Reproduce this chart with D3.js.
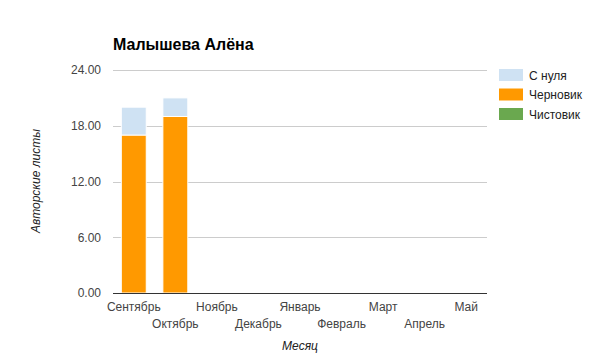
<!DOCTYPE html>
<html><head><meta charset="utf-8">
<script src="https://cdn.jsdelivr.net/npm/d3@7"></script>
<style>body{margin:0;background:#fff}svg{display:block;font-family:Arial,"Liberation Sans",sans-serif}</style>
</head><body><svg id="c" width="600" height="363"></svg>
<script>
const months = ["Сентябрь","Октябрь","Ноябрь","Декабрь","Январь","Февраль","Март","Апрель","Май"];
const chernovik = [17,19,0,0,0,0,0,0,0];
const sNulya = [3,2,0,0,0,0,0,0,0];
const chistovik = [0,0,0,0,0,0,0,0,0];
const yTicks = [0,6,12,18,24];
const seriesNames = ["С нуля","Черновик","Чистовик"];
const colors = {"С нуля":"#cfe2f3","Черновик":"#ff9900","Чистовик":"#6aa84f"};

const svg = d3.select("#c");
const m = {l:113, r:487, t:70, b:293};
const x = d3.scaleBand().domain(months).range([m.l,m.r]).paddingInner(0.4).paddingOuter(0.2);
const y = d3.scaleLinear().domain([0,24]).range([m.b,m.t]);
const FF = "Arial,'Liberation Sans',sans-serif";

svg.append("text").attr("x",113).attr("y",50).attr("font-size",16).attr("font-weight","bold").attr("fill","#000").text("Малышева Алёна");

// gridlines
svg.append("g").selectAll("line").data(yTicks.filter(d=>d>0)).join("line")
  .attr("x1",m.l).attr("x2",m.r).attr("y1",d=>Math.round(y(d))+0.5).attr("y2",d=>Math.round(y(d))+0.5)
  .attr("stroke","#cccccc");

const yAxis = svg.append("g").attr("transform",`translate(${m.l},0)`)
  .call(d3.axisLeft(y).tickValues(yTicks).tickFormat(d3.format(".2f")).tickSize(0).tickPadding(12));
yAxis.select(".domain").remove();
yAxis.selectAll("text").attr("font-size",12).attr("fill","#444").attr("font-family",FF);

// stacked bars
const rows = months.map((mo,i)=>({month:mo,"Черновик":chernovik[i],"С нуля":sNulya[i],"Чистовик":chistovik[i]}));
const stack = d3.stack().keys(["Чистовик","Черновик","С нуля"])(rows);
svg.append("g").selectAll("g").data(stack).join("g").attr("fill",d=>colors[d.key])
  .selectAll("rect").data(d=>d.filter(p=>p[1]-p[0]>0)).join("rect")
  .attr("x",d=>x(d.data.month)).attr("width",x.bandwidth())
  .attr("y",d=>y(d[1])).attr("height",d=>y(d[0])-y(d[1]))
  .attr("stroke","#fff").attr("stroke-width",1);

// baseline
svg.append("line").attr("x1",m.l).attr("x2",m.r).attr("y1",m.b+0.5).attr("y2",m.b+0.5).attr("stroke","#333");

// x axis labels (two rows)
const xAxis = svg.append("g").attr("transform",`translate(0,${m.b})`)
  .call(d3.axisBottom(x).tickSize(0).tickPadding(0));
xAxis.select(".domain").remove();
xAxis.selectAll("text").attr("font-size",12).attr("fill","#444").attr("dy",null)
  .attr("y",(d,i)=> i%2===0 ? 18 : 35).attr("font-family",FF);

svg.append("text").attr("x",300).attr("y",350).attr("text-anchor","middle").attr("font-size",12)
  .attr("font-style","italic").attr("fill","#222").text("Месяц");
svg.append("text").attr("transform","translate(40,181) rotate(-90)").attr("text-anchor","middle")
  .attr("font-size",12).attr("font-style","italic").attr("fill","#222").text("Авторские листы");

// legend
const lg = svg.append("g").selectAll("g").data(seriesNames).join("g")
  .attr("transform",(d,i)=>`translate(499,${69+i*19.5})`);
lg.append("rect").attr("width",24).attr("height",12).attr("fill",d=>colors[d]);
lg.append("text").attr("x",30).attr("y",10.5).attr("font-size",12).attr("fill","#222").text(d=>d);
</script></body></html>
